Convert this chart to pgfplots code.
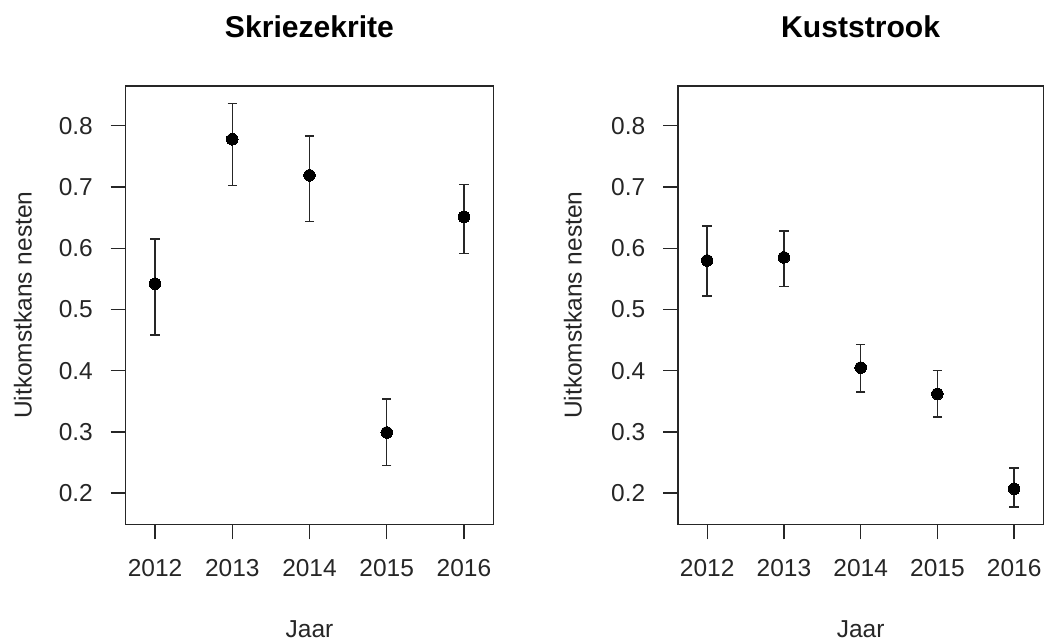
\documentclass[border=0pt]{standalone}
\usepackage{pgfplots}
\pgfplotsset{compat=1.18}
\usepackage{pgfplotstable}
\usepackage{fontspec}
\setmainfont{Liberation Sans}

\pgfplotstableread{
x y ep em
2012 0.542 0.073 0.084
2013 0.778 0.058 0.076
2014 0.719 0.064 0.075
2015 0.299 0.055 0.0535
2016 0.651 0.053 0.060
}\leftdata
\pgfplotstableread{
x y ep em
2012 0.580 0.056 0.058
2013 0.585 0.043 0.048
2014 0.405 0.038 0.040
2015 0.362 0.038 0.038
2016 0.207 0.034 0.030
}\rightdata

\definecolor{axcol}{HTML}{262626}

\pgfplotsset{
  every axis title shift=0pt,
  panel/.style={
    scale only axis,
    height=438.3bp,
    anchor=south west,
    xmin=2011.62, xmax=2016.38,
    ymin=0.149, ymax=0.865,
    xtick={2012,2013,2014,2015,2016},
    ytick={0.2,0.3,0.4,0.5,0.6,0.7,0.8},
    yticklabels={0.2,0.3,0.4,0.5,0.6,0.7,0.8},
    xticklabels={2012,2013,2014,2015,2016},
    tick align=outside,
    major tick length=15bp,
    xtick pos=bottom, ytick pos=left,
    axis line style={axcol, line width=1.3bp},
    every tick/.style={axcol, line width=1.3bp},
    tick label style={font=\fontsize{24.5bp}{29bp}\selectfont, text=axcol},
    xticklabel style={anchor=north, inner sep=0pt, yshift=-20bp},
    yticklabel style={anchor=east, inner sep=0pt, xshift=-17.7bp},
    label style={font=\fontsize{24.5bp}{29bp}\selectfont, text=axcol},
    xlabel={Jaar},
    ylabel={Uitkomstkans nesten},
    xlabel style={at={(axis description cs:0.5,0)}, anchor=base, inner sep=0pt, yshift=-113bp},
    title style={at={(axis description cs:0.5,1)}, anchor=base, inner sep=0pt, yshift=48bp,
      font=\fontsize{30.1bp}{36bp}\selectfont\bfseries},
  },
  errplot/.style={
    only marks,
    mark=*,
    mark size=5.8bp,
    mark options={fill=black, draw=black, line width=0pt},
    error bars/.cd,
      y dir=both, y explicit,
      error bar style={line width=1.4bp, axcol},
      error mark options={rotate=90, mark size=4.7bp, line width=1.4bp, axcol},
  },
}

\begin{document}
\begin{tikzpicture}
\useasboundingbox (0,0) rectangle (1044bp,641bp);
\begin{axis}[panel,
  at={(125.7bp,116.7bp)},
  width=367.6bp,
  title={Skriezekrite},
  ylabel style={at={(axis description cs:-0.2557,0.5)}, anchor=base, inner sep=0pt},
]
\addplot+[errplot] table[x=x, y=y, y error plus=ep, y error minus=em] {\leftdata};
\end{axis}
\begin{axis}[panel,
  at={(678bp,116.7bp)},
  width=365.3bp,
  title={Kuststrook},
  ylabel style={at={(axis description cs:-0.2636,0.5)}, anchor=base, inner sep=0pt},
]
\addplot+[errplot] table[x=x, y=y, y error plus=ep, y error minus=em] {\rightdata};
\end{axis}
\end{tikzpicture}
\end{document}
